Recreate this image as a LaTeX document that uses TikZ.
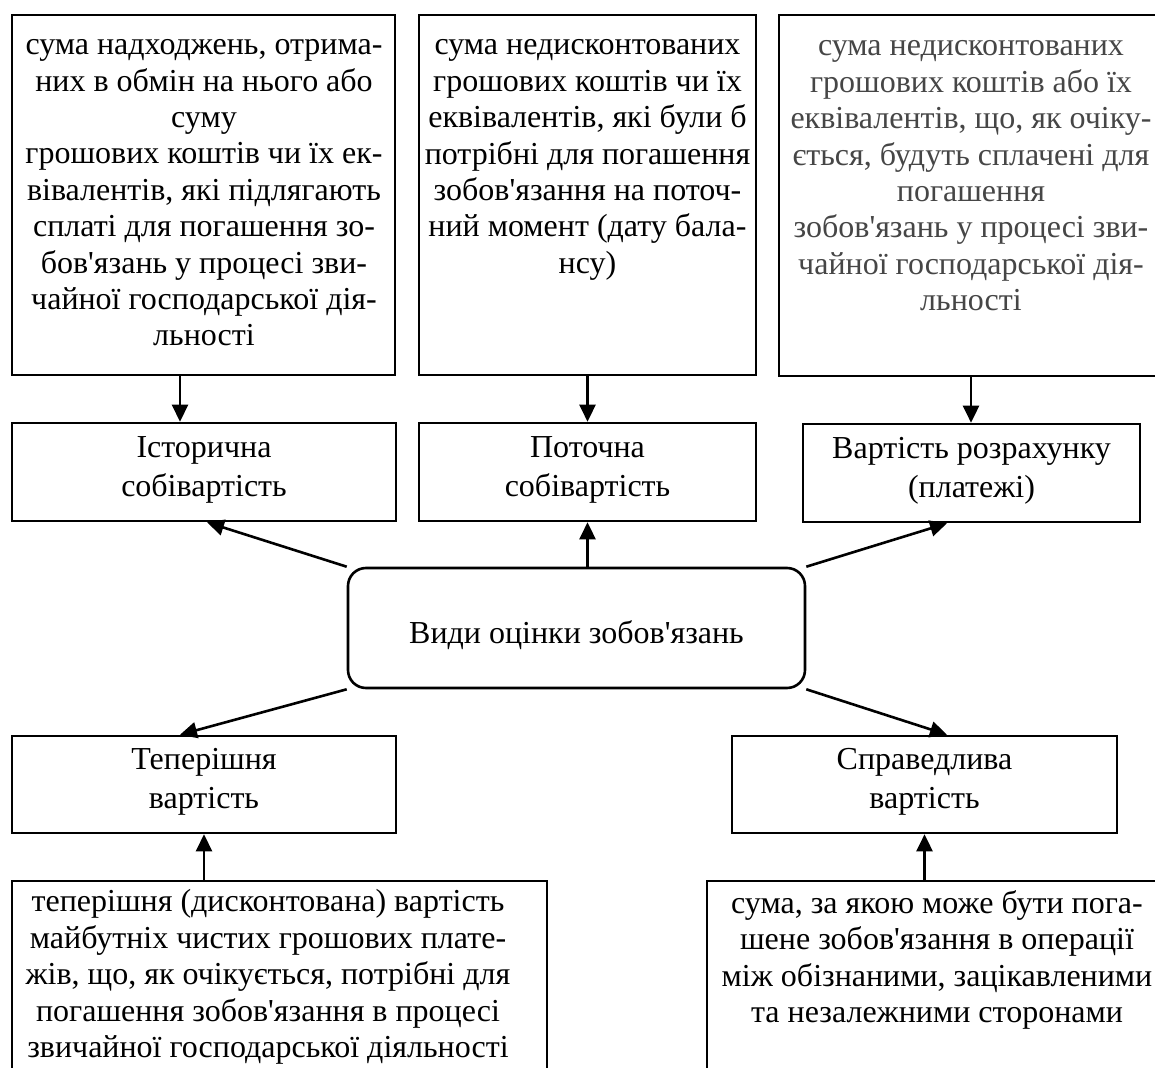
\documentclass[tikz,border=0pt]{standalone}
\usepackage{fontspec}
\setmainfont{Liberation Serif}[Ligatures=TeXOff]
\usetikzlibrary{arrows.meta,calc}
\definecolor{txtgray}{RGB}{70,70,70}
\begin{document}
\begin{tikzpicture}[x=0.5pt,y=-0.5pt,
  box/.style={draw,line width=1.3pt,rectangle,inner sep=0pt},
  rbox/.style={box,rounded corners=9pt},
  txt/.style={align=center,inner sep=0pt,font=\fontsize{16}{18.2}\selectfont},
  txtw/.style={align=center,inner sep=0pt,font=\fontsize{16}{19.8}\selectfont},
  conn/.style={line width=1.3pt,-{Triangle[length=8.5pt,width=8pt]}}]
\clip (0,0) rectangle (1155,1068);
\fill[white] (0,0) rectangle (1155,1068);
% boxes
\node[box,minimum width=191.5pt,minimum height=180pt] (d1) at (203.5,195) {};
\node[box,minimum width=168.5pt,minimum height=180pt] (d2) at (587.5,195) {};
\node[box,minimum width=192pt,minimum height=180.5pt] (d3) at (971,195.5) {};
\node[box,minimum width=192pt,minimum height=49pt] (m1) at (204,472) {};
\node[box,minimum width=168.5pt,minimum height=49pt] (m2) at (587.5,472) {};
\node[box,minimum width=168.5pt,minimum height=49pt] (m3) at (971.5,473) {};
\node[rbox,minimum width=228.5pt,minimum height=60pt] (c) at (576.5,628) {};
\node[box,minimum width=192pt,minimum height=48.5pt] (l1) at (204,784.5) {};
\node[box,minimum width=192.5pt,minimum height=48.5pt] (l2) at (924.5,784.5) {};
\node[box,minimum width=267.5pt,minimum height=109.5pt] (b1) at (279.5,990.5) {};
\node[box,minimum width=230pt,minimum height=109.5pt] (b2) at (937,990.5) {};
% texts
\node[txt] (d1t) at (204,193) {сума надходжень, отрима-\\них в обмін на нього або\\суму\\грошових коштів чи їх ек-\\вівалентів, які підлягають\\сплаті для погашення зо-\\бов'язань у процесі зви-\\чайної господарської дія-\\льності};
\node[txt] (d2t) at (587.5,160) {сума недисконтованих\\грошових коштів чи їх\\еквівалентів, які були б\\потрібні для погашення\\зобов'язання на поточ-\\ний момент (дату бала-\\нсу)};
\node[txt,text=txtgray] (d3t) at (971,176) {сума недисконтованих\\грошових коштів або їх\\еквівалентів, що, як очіку-\\ється, будуть сплачені для\\погашення\\зобов'язань у процесі зви-\\чайної господарської дія-\\льності};
\node[txtw] (m1t) at (204,470) {Історична\\собівартість};
\node[txtw] (m2t) at (587.5,470) {Поточна\\собівартість};
\node[txtw] (m3t) at (971.5,471) {Вартість розрахунку\\(платежі)};
\node[txt] (ct) at (576.5,635) {Види оцінки зобов'язань};
\node[txtw] (l1t) at (204,782) {Теперішня\\вартість};
\node[txtw] (l2t) at (924.5,782) {Справедлива\\вартість};
\node[txt] (b1t) at (268,977) {теперішня (дисконтована) вартість\\майбутніх чистих грошових плате-\\жів, що, як очікується, потрібні для\\погашення зобов'язання в процесі\\звичайної господарської діяльності};
\node[txt] (b2t) at (937,960) {сума, за якою може бути пога-\\шене зобов'язання в операції\\між обізнаними, зацікавленими\\та незалежними сторонами};
% connectors
\draw[conn] ($(d1.south)+(-23.5,0)$) -- ($(m1.north)+(-24,0)$);
\draw[conn] (d2.south) -- (m2.north);
\draw[conn] (d3.south) -- (d3.south |- m3.north);
\draw[conn] (c.north west) -- ($(m1.south)+(3,0)$);
\draw[conn] (c.north -| m2.south) -- (m2.south);
\draw[conn] (c.north east) -- ($(m3.south)+(-24.5,0)$);
\draw[conn] (c.south west) -- ($(l1.north)+(-24,0)$);
\draw[conn] (c.south east) -- ($(l2.north)+(22.5,0)$);
\draw[conn] (b1.north -| l1.south) -- (l1.south);
\draw[conn] (b2.north -| l2.south) -- (l2.south);
\end{tikzpicture}
\end{document}
